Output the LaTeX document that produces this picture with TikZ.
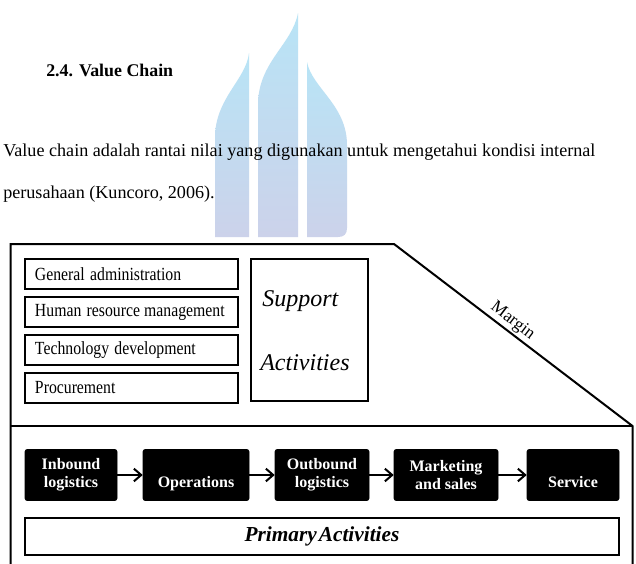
\documentclass[tikz,border=0pt]{standalone}
\usepackage{fontspec}
\setmainfont{Liberation Serif}
\newfontfamily\condfont[FakeStretch=0.85]{Liberation Serif}
\usetikzlibrary{arrows.meta}
\definecolor{wmtop}{RGB}{184,228,246}
\definecolor{wmbot}{RGB}{204,210,234}
\begin{document}
\begin{tikzpicture}[x=0.75pt,y=-0.75pt,
  frame/.style={line width=1.5pt},
  sbox/.style={draw, line width=1.5pt, minimum width=159.75pt, minimum height=22.5pt,
    text width=144.75pt, inner xsep=7.5pt, inner ysep=0pt, align=left,
    font=\condfont\fontsize{13.9}{16}\selectfont},
  pbox/.style={draw=black, fill=black, rounded corners=1.5pt, minimum height=38.25pt,
    text=white, align=center, inner sep=0pt,
    font=\bfseries\fontsize{12}{13.5}\selectfont},
  pone/.style={pbox, text height=21.8pt, text depth=2.6pt},
  arr/.style={line width=1.5pt, -{Straight Barb[length=5.5pt,width=9.5pt]}},
  bigit/.style={anchor=base west, inner sep=0pt, font=\itshape\fontsize{18}{20}\selectfont},
  txt/.style={anchor=base west, inner sep=0pt, font=\fontsize{13.6}{16}\selectfont}]
\useasboundingbox (0,0) rectangle (636,564);
\fill[white] (0,0) rectangle (636,564);
% watermark
\shade[top color=wmtop, bottom color=wmbot] (249,53) .. controls (246,80) and (215,98) .. (215,138) -- (215,237) -- (249,237) -- cycle;
\shade[top color=wmtop, bottom color=wmbot] (298,13) .. controls (292,45) and (258,62) .. (258,105) -- (258,237) -- (298,237) -- cycle;
\shade[top color=wmtop, bottom color=wmbot] (307,62) .. controls (312,88) and (347,105) .. (347,145) -- (347,228) .. controls (347,234) and (344,237) .. (338,237) -- (307,237) -- cycle;
% heading and paragraph
\node[txt, font=\bfseries\fontsize{13.4}{16}\selectfont] (head) at (46,76.7) {2.4. Value Chain};
\node[txt] (p1) at (3,156.5) {Value chain adalah rantai nilai yang digunakan untuk mengetahui kondisi internal};
\node[txt] (p2) at (3,198) {perusahaan (Kuncoro, 2006).};
% frame
\draw[frame] (10.7,564) -- (10.7,244) -- (394,244)
  -- node[sloped, above, pos=0.47, inner sep=1.5pt, font=\fontsize{13}{15}\selectfont] (margin) {Margin}
  (632.5,426) -- (632.5,564);
\draw[frame] (10.7,426) -- (632.5,426);
% support activities
\node[sbox] (ga) at (131.5,274) {General\hspace{4pt}administration};
\node[sbox] (hr) at (131.5,312) {Human\hspace{4pt}resource\hspace{-1.5pt} management};
\node[sbox] (td) at (131.5,350) {Technology\hspace{4pt}development};
\node[sbox] (pr) at (131.5,388) {Procurement};
\node[draw, line width=1.5pt, minimum width=87.75pt, minimum height=106.5pt] (sa) at (309.5,330) {};
\node[bigit] (sup) at (262,306.5) {Support};
\node[bigit] (act) at (260,370) {Activities};
% primary activities
\node[pbox, minimum width=69pt] (ib) at (71,475) {Inbound\\logistics};
\node[pone, minimum width=79.5pt] (op) at (196,475) {Operations};
\node[pbox, minimum width=70.5pt] (ob) at (322,475) {Outbound\\logistics};
\node[pbox, minimum width=78pt] (ms) at (446,475) {Marketing\\and sales};
\node[pone, minimum width=69pt] (sv) at (573,475) {Service};
\draw[arr] (ib.east) -- (op.west);
\draw[arr] (op.east) -- (ob.west);
\draw[arr] (ob.east) -- (ms.west);
\draw[arr] (ms.east) -- (sv.west);
\node[draw, line width=1.5pt, minimum width=445.5pt, minimum height=27.75pt,
  font=\bfseries\itshape\fontsize{16}{18}\selectfont] (pa) at (322,536.5) {Primary\hspace{1.5pt}Activities};
\end{tikzpicture}
\end{document}
